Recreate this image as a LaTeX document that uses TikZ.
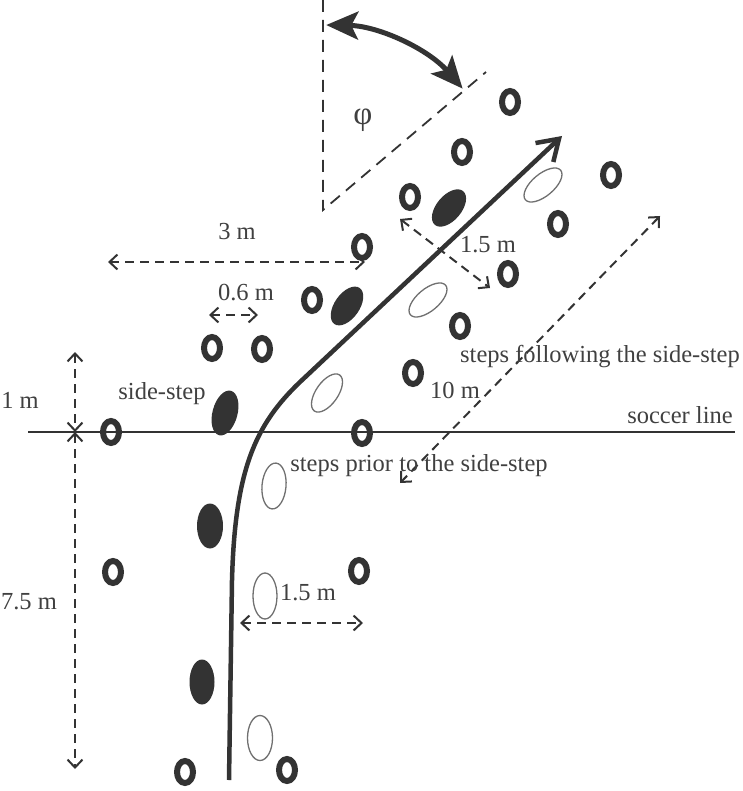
\documentclass[tikz,border=0pt]{standalone}
\usepackage{fontspec}
\setmainfont{Liberation Serif}
\usetikzlibrary{arrows.meta,shapes.geometric}
\definecolor{ink}{HTML}{333333}
\definecolor{txt}{HTML}{404040}
\definecolor{thin}{HTML}{707070}
\begin{document}
\begin{tikzpicture}[x=1pt,y=-1pt,
  cone/.style={ellipse, draw=ink, line width=6pt, minimum width=16pt, minimum height=22pt, inner sep=0pt},
  foot/.style={ellipse, fill=ink, inner sep=0pt, minimum width=45pt, minimum height=25pt},
  print/.style={ellipse, draw=thin, line width=1.3pt, inner sep=0pt, minimum width=46pt, minimum height=23pt},
  lbl/.style={text=txt, inner sep=0pt, font=\fontsize{24.5}{28}\selectfont},
  dim/.style={draw=ink, line width=2pt, dash pattern=on 9pt off 6pt,
    {Straight Barb[length=8pt,width=15pt]}-{Straight Barb[length=8pt,width=15pt]}},
  angl/.style={draw=ink, line width=1.8pt, dash pattern=on 12pt off 8pt},
  pathline/.style={draw=ink, line width=4.5pt, line join=round, -{Straight Barb[length=20pt,width=26pt]}},
  bigarc/.style={draw=ink, line width=5pt,
    {Stealth[length=32pt,width=28pt,inset=7pt]}-{Stealth[length=32pt,width=28pt,inset=7pt]}}
]
\path[use as bounding box] (0,0) rectangle (742,791);

% angle construction
\coordinate (V) at (323,210);
\coordinate (Vtop) at (323,0);
\coordinate (Vdiag) at (486,72);
\draw[angl] (Vtop) -- (V) -- (Vdiag);
\path (V) ++(-89:185) coordinate (phiA);
\draw[bigarc] (phiA) arc[start angle=-89, end angle=-41, radius=185];
\node[lbl, font=\fontsize{33}{36}\selectfont] (phi) at (363,120) {φ};

% soccer line
\coordinate (sl1) at (28,432);
\coordinate (sl2) at (735,432);
\draw[ink, line width=2.2pt] (sl1) -- (sl2);

% cones
\foreach \x/\y [count=\i] in {510/102,462/152,410/197,611/175,558/224,362/247,508/274,312/300,460/326,212/348,262/349,413/373,111/432,362/433,113/572,359/571,185/772,287/770}
  \node[cone] (r\i) at (\x,\y) {};

% filled footprints
\node[foot, rotate=50, minimum width=44pt] (f1) at (449,208) {};
\node[foot, rotate=55, minimum width=44pt] (f2) at (347,306) {};
\node[foot, rotate=75, minimum width=46pt] (f3) at (225,413) {};
\node[foot, rotate=90, minimum height=26pt] (f4) at (210,526) {};
\node[foot, rotate=90] (f5) at (202,682) {};

% open footprints
\node[print, rotate=40, minimum height=22pt] (o1) at (543,185) {};
\node[print, rotate=40, minimum height=22pt] (o2) at (428,300) {};
\node[print, rotate=55, minimum width=44pt, minimum height=22pt] (o3) at (327,393) {};
\node[print, rotate=85, minimum height=24pt] (o4) at (274,486) {};
\node[print, rotate=90, minimum height=24pt] (o5) at (265,596) {};
\node[print, rotate=90, minimum width=45pt, minimum height=25pt] (o6) at (260,738) {};

% main path
\coordinate (pS) at (229,780);
\coordinate (pA) at (232,580);
\coordinate (pB) at (235,470);
\coordinate (pC) at (255,425);
\coordinate (pD) at (300,382);
\coordinate (pE) at (562,136);
\draw[pathline] (pS) -- (pA) .. controls (pB) and (pC) .. (pD) -- (pE);

% dimensions
\coordinate (d1a) at (75,352);
\coordinate (d1b) at (75,432);
\coordinate (d7b) at (75,769);
\draw[dim] (d1a) -- (d1b);
\draw[dim] (d1b) -- (d7b);
\coordinate (m3a) at (108,262);
\coordinate (m3b) at (365,262);
\draw[dim] (m3a) -- (m3b);
\coordinate (m6a) at (209,315);
\coordinate (m6b) at (258,315);
\draw[dim] (m6a) -- (m6b);
\coordinate (u15a) at (400,219);
\coordinate (u15b) at (490,288);
\draw[dim] (u15a) -- (u15b);
\coordinate (l15a) at (240,623);
\coordinate (l15b) at (363,623);
\draw[dim] (l15a) -- (l15b);
\coordinate (t10a) at (660,216);
\coordinate (t10b) at (400,483);
\draw[dim] (t10a) -- (t10b);

% labels
\node[lbl] (t1m) at (20,400) {1 m};
\node[lbl] (t75m) at (29,602) {7.5 m};
\node[lbl] (tside) at (162,394) {side-step};
\node[lbl] (t3m) at (237,232) {3 m};
\node[lbl] (t06m) at (246,293) {0.6 m};
\node[lbl] (t15u) at (488,245) {1.5 m};
\node[lbl] (t15l) at (308,593) {1.5 m};
\node[lbl] (t10m) at (455,390) {10 m};
\node[lbl] (tfol) at (600,357) {steps following the side-step};
\node[lbl] (tsoc) at (680,415) {soccer line};
\node[lbl] (tpri) at (419,466) {steps prior to the side-step};
\end{tikzpicture}
\end{document}
